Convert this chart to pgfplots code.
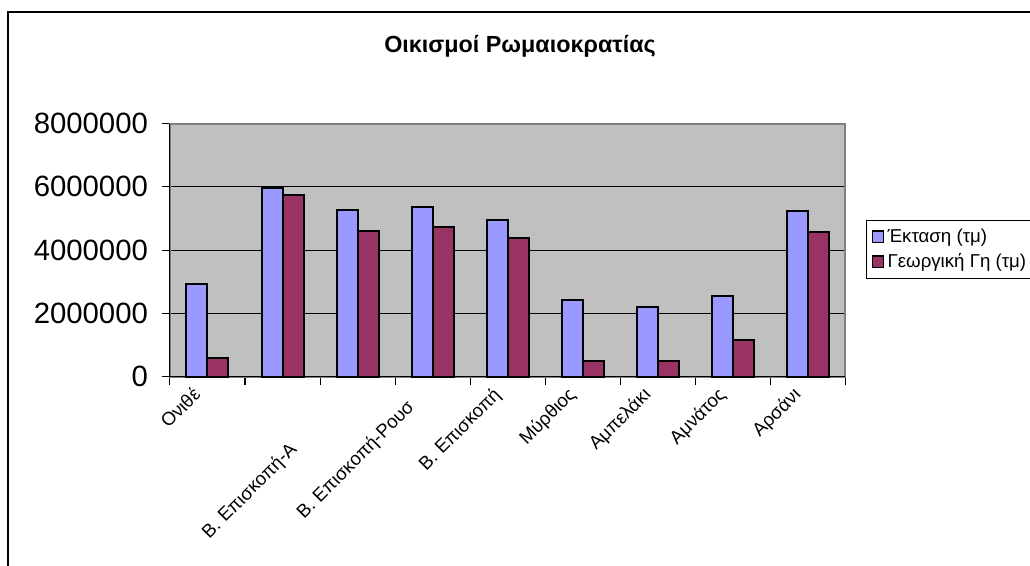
\documentclass[border=0pt]{standalone}
\usepackage{pgfplots}
\pgfplotsset{compat=1.18}
\usepackage{fontspec}
\setmainfont{Liberation Sans}
\definecolor{barblue}{HTML}{9999FF}
\definecolor{barred}{HTML}{993366}
\definecolor{plotgray}{HTML}{C0C0C0}
\definecolor{bordergray}{HTML}{808080}
\begin{document}
\begin{tikzpicture}
\path[use as bounding box, clip] (-127.5pt,-141.375pt) rectangle (645pt,282.375pt);
\fill[white] (-127.5pt,-141.375pt) rectangle (645pt,282.375pt);
\draw[line width=1pt] (-121.5pt,-150pt) -- (-121.5pt,273.375pt) -- (700pt,273.375pt);
\node[font=\bfseries\fontsize{17.5}{20}\selectfont, anchor=base] at (262.5pt,243pt) {Οικισμοί Ρωμαιοκρατίας};
\begin{axis}[
  at={(0pt,0pt)}, anchor=south west,
  width=506.25pt, height=189.75pt, scale only axis,
  ybar=0pt, bar width=15.75pt,
  xmin=-0.5, xmax=8.5, ymin=0, ymax=8000000,
  clip=false,
  axis background/.style={fill=plotgray},
  axis line style={draw=bordergray, line width=1.5pt},
  tick pos=left, tick align=outside, major tick length=6pt,
  tick style={black, line width=0.75pt},
  ytick={0,2000000,4000000,6000000,8000000},
  scaled y ticks=false,
  yticklabel style={/pgf/number format/fixed, /pgf/number format/1000 sep={}, /pgf/number format/assume math mode=true, font=\fontsize{22}{26}\selectfont, xshift=-7pt},
  ymajorgrids, major grid style={black, line width=0.75pt},
  xtick={-0.5,0.5,...,8.5}, xticklabels={},
  extra x ticks={0,1,2,3,4,5,6,7,8},
  extra x tick labels={Ονιθέ,{},{},{},Β. Επισκοπή,Μύρθιος,Αμπελάκι,Αμνάτος,Αρσάνι},
  extra x tick style={tick style={draw=none}, xticklabel style={xshift=-12pt, yshift=2pt, rotate=45, anchor=north east, font=\fontsize{14}{16}\selectfont, inner sep=2pt}},
  legend style={at={(1.0311,0.6186)}, anchor=north west, draw=black, fill=white, font=\fontsize{14}{16}\selectfont, row sep=2pt, inner sep=4pt, nodes={inner sep=2.5pt}},
  legend cell align=left,
]
\addplot[fill=barblue, draw=black, line width=1.5pt, legend image code/.code={\draw[fill=barblue, draw=black, line width=1pt] (0pt,-4.25pt) rectangle (8.5pt,4.25pt);}] coordinates {
(0,2940000) (1,5970000) (2,5270000) (3,5370000) (4,4960000) (5,2430000) (6,2190000) (7,2550000) (8,5240000)};
\addplot[fill=barred, draw=black, line width=1.5pt, legend image code/.code={\draw[fill=barred, draw=black, line width=1pt] (0pt,-4.25pt) rectangle (8.5pt,4.25pt);}] coordinates {
(0,570000) (1,5740000) (2,4600000) (3,4720000) (4,4370000) (5,480000) (6,480000) (7,1170000) (8,4570000)};
\legend{Έκταση (τμ),Γεωργική Γη (τμ)\hspace*{20pt}}
\draw[black, line width=0.75pt] (rel axis cs:0,1) -- (rel axis cs:0,0) -- (rel axis cs:1,0);
\node[xshift=-12pt, yshift=-45.1pt, rotate=45, anchor=north east, font=\fontsize{14}{16}\selectfont, inner sep=2pt] at (axis cs:1.283,0) {Β. Επισκοπή-Α};
\node[xshift=-12pt, yshift=-13.2pt, rotate=45, anchor=north east, font=\fontsize{14}{16}\selectfont, inner sep=2pt] at (axis cs:2.849,0) {Β. Επισκοπή-Ρουσ};
\end{axis}
\end{tikzpicture}
\end{document}
